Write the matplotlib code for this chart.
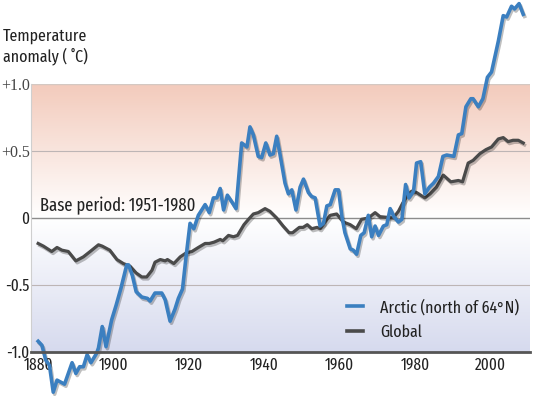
"""Arctic vs global temperature anomaly, 1880-2008."""

import matplotlib.pyplot as plt
import matplotlib.patheffects as pe
import numpy as np
from matplotlib.colors import LinearSegmentedColormap
from matplotlib.lines import Line2D

# Arctic (north of 64°N) anomaly
arctic_years = [1880, 1881, 1882, 1883, 1884, 1885, 1887, 1889, 1890, 1891, 1892, 1893,
                1894, 1895.5, 1896, 1897, 1898, 1899.5, 1900.7, 1902, 1903.5, 1904, 1905,
                1906, 1907.5, 1909, 1909.7, 1911, 1912.8, 1913.7, 1915, 1916.3, 1917.2,
                1918.3, 1919.2, 1920.3, 1921.3, 1922.5, 1924.3, 1925.4, 1926.5, 1927.4,
                1928.3, 1929.2, 1930.2, 1931.4, 1932.5, 1934, 1935.4, 1936.2, 1937.1,
                1938.4, 1939.3, 1940.4, 1941.5, 1942.4, 1943.3, 1944.2, 1945.5, 1946.4,
                1947.3, 1948.4, 1949.5, 1950.4, 1951.7, 1952.6, 1953.5, 1954.8, 1955.7,
                1956.6, 1957.5, 1958.8, 1959.7, 1960.6, 1961.4, 1962.8, 1963.6, 1964.5,
                1965.6, 1966.5, 1967.6, 1968.5, 1969.4, 1970.3, 1971.6, 1972.5, 1973.4,
                1974.4, 1975.6, 1976.5, 1977.5, 1978.4, 1979.6, 1980.4, 1981.5, 1982.6,
                1983.8, 1984.9, 1986.2, 1987.4, 1988.4, 1990.3, 1991.5, 1992.4, 1993.5,
                1994.8, 1995.4, 1996.8, 1998, 1999.2, 2000.3, 2002.1, 2003.4, 2004.3,
                2005.6, 2006.4, 2007.6, 2008.7]
arctic_vals = [-0.92, -0.95, -1.06, -1.10, -1.30, -1.21, -1.24, -1.08, -1.16, -1.11, -1.11,
               -1.02, -1.08, -1.01, -0.97, -0.81, -0.96, -0.76, -0.65, -0.52, -0.35, -0.35,
               -0.43, -0.55, -0.59, -0.60, -0.62, -0.56, -0.56, -0.61, -0.77, -0.68, -0.60,
               -0.53, -0.30, -0.04, -0.08, 0.02, 0.10, 0.04, 0.15, 0.15, 0.22, 0.06, 0.17,
               0.12, 0.07, 0.56, 0.53, 0.68, 0.62, 0.46, 0.45, 0.56, 0.47, 0.48, 0.61, 0.47,
               0.26, 0.18, 0.21, 0.06, 0.23, 0.29, 0.19, 0.16, 0.15, -0.06, -0.04, 0.09,
               0.10, 0.21, 0.21, 0.01, -0.11, -0.23, -0.24, -0.27, -0.13, -0.11, 0.02,
               -0.14, -0.06, -0.13, -0.06, -0.05, 0.07, 0.01, -0.03, -0.01, 0.25, 0.15,
               0.20, 0.41, 0.42, 0.18, 0.23, 0.26, 0.31, 0.46, 0.47, 0.46, 0.62, 0.63, 0.83,
               0.89, 0.89, 0.83, 0.89, 1.05, 1.09, 1.32, 1.51, 1.50, 1.58, 1.56, 1.60, 1.52]

# Global anomaly
global_years = [1880, 1881.4, 1883.6, 1885, 1886.3, 1888, 1890, 1892, 1893.8, 1896, 1897,
                1899, 1900.9, 1902.6, 1904.4, 1906, 1907.5, 1908.8, 1910.2, 1911, 1912.4,
                1913.7, 1914.3, 1916, 1917.7, 1919.3, 1920.8, 1922.5, 1924.3, 1925.4,
                1926.7, 1928.3, 1929, 1930.5, 1931.8, 1932.9, 1934.6, 1935.8, 1937.1,
                1938.4, 1940.2, 1941.5, 1943.3, 1945, 1946.6, 1947.5, 1949.3, 1950.3,
                1951.4, 1952.6, 1954, 1954.8, 1956.1, 1957.5, 1959.2, 1961, 1962.8, 1964.4,
                1965.8, 1967.6, 1969.4, 1970.7, 1972.5, 1974.2, 1975.6, 1976.7, 1977.8,
                1979.1, 1980.4, 1982.6, 1984, 1985.7, 1987.5, 1989.5, 1991.5, 1992.6,
                1994.1, 1995.4, 1997.2, 1998.8, 2000.3, 2002.1, 2003.4, 2004.7, 2006,
                2007.4, 2008.7]
global_vals = [-0.19, -0.21, -0.25, -0.22, -0.24, -0.25, -0.32, -0.29, -0.25, -0.20, -0.21,
               -0.24, -0.31, -0.34, -0.36, -0.41, -0.44, -0.44, -0.39, -0.33, -0.31, -0.32,
               -0.31, -0.34, -0.29, -0.26, -0.25, -0.22, -0.19, -0.19, -0.18, -0.16, -0.17,
               -0.13, -0.14, -0.13, -0.05, -0.01, 0.03, 0.04, 0.07, 0.05, 0.00, -0.06,
               -0.11, -0.11, -0.07, -0.07, -0.05, -0.08, -0.07, -0.08, -0.03, 0.02, 0.03,
               -0.03, -0.05, -0.08, -0.01, 0.00, 0.04, 0.01, 0.005, 0.00, 0.05, 0.11, 0.16,
               0.20, 0.19, 0.15, 0.18, 0.23, 0.32, 0.27, 0.28, 0.27, 0.41, 0.43, 0.48,
               0.51, 0.53, 0.59, 0.60, 0.57, 0.58, 0.58, 0.56]

x_ticks = [1880, 1900, 1920, 1940, 1960, 1980, 2000]
y_ticks = [1.0, 0.5, 0.0, -0.5, -1.0]
y_labels = ["+1.0", "+0.5", "0", "-0.5", "-1.0"]

BLUE = "#3b7fc0"
GRAY = "#4a4a4a"
NARROW = ["Fira Sans Extra Condensed", "Fira Sans Condensed", "DejaVu Sans"]
SERIF = ["Liberation Serif", "DejaVu Serif"]
TXT = dict(family=NARROW, color="#222222")

fig = plt.figure(figsize=(5.4, 3.96), dpi=100)
ax = fig.add_axes([31 / 540, (396 - 352) / 396, 499 / 540, 268 / 396])
x0, x1 = 1878.1, 2010.5
ax.set_xlim(x0, x1)
ax.set_ylim(-1.0, 1.0)

# warm/cool background gradient
cmap = LinearSegmentedColormap.from_list(
    "bg", [(0.0, "#d6daee"), (0.5, "#ffffff"), (1.0, "#f3cbbc")])
grad = np.linspace(-1, 1, 256).reshape(-1, 1)
ax.imshow(grad, extent=[x0, x1, -1, 1], origin="lower", aspect="auto",
          cmap=cmap, vmin=-1, vmax=1, zorder=0)

for y in (0.5, -0.5):
    ax.axhline(y, color="#bdb5b5", lw=0.8, zorder=1)
ax.axhline(0, color="#8c8c8c", lw=1.0, zorder=1)
ax.axhline(1.0, color="#d4c8c2", lw=1.0, zorder=1)

shadow = [pe.SimpleLineShadow(offset=(1, -1.5), alpha=0.25), pe.Normal()]
ax.plot(global_years, global_vals, color=GRAY, lw=2.3, zorder=3,
        clip_on=False, path_effects=shadow)
ax.plot(arctic_years, arctic_vals, color=BLUE, lw=2.6, zorder=4,
        clip_on=False, path_effects=shadow)

for side in ("top", "right"):
    ax.spines[side].set_visible(False)
ax.spines["left"].set_color("#cfcfcf")
ax.spines["left"].set_linewidth(0.8)
ax.spines["bottom"].set_color("#555555")
ax.spines["bottom"].set_linewidth(2.0)
ax.spines["bottom"].set_zorder(5)

ax.set_xticks(x_ticks)
ax.set_xticklabels([str(t) for t in x_ticks], fontsize=12, **TXT)
ax.set_yticks(y_ticks)
ax.set_yticklabels(y_labels, fontsize=12, **TXT)
for lbl in ax.get_yticklabels():
    if lbl.get_text().startswith("+"):
        lbl.set_family(SERIF)
        lbl.set_fontsize(11.5)
        lbl.set_color("#444444")
ax.tick_params(length=0, pad=1)
ax.tick_params(axis="x", pad=4)

fig.text(3 / 540, 1 - 28 / 396, "Temperature\nanomaly ( ˚C)", ha="left", va="top",
         fontsize=12.5, linespacing=1.2, **TXT)
ax.text(1880.5, 0.02, "Base period: 1951-1980", ha="left", va="bottom",
        fontsize=13, zorder=5, **TXT)

handles = [Line2D([], [], color=BLUE, lw=2.6),
           Line2D([], [], color=GRAY, lw=2.6)]
leg = ax.legend(handles, ["Arctic (north of 64°N)", "Global"], loc="lower right",
                bbox_to_anchor=(1.01, -0.015), frameon=False, handlelength=0.9,
                handletextpad=1.0, labelspacing=0.5,
                prop={"family": NARROW, "size": 12.5})
for t in leg.get_texts():
    t.set_color("#222222")

fig.savefig("out.png", dpi=100)
